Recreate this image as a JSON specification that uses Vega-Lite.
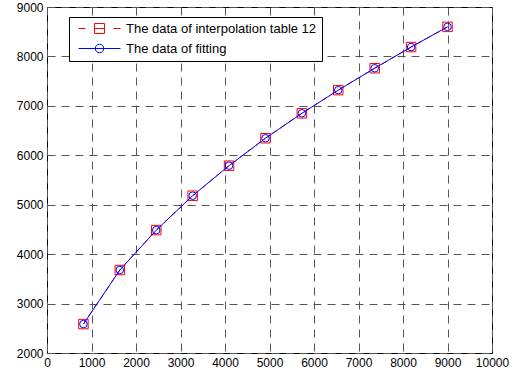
{
  "$schema": "https://vega.github.io/schema/vega-lite/v6.json",
  "width": 445,
  "height": 346,
  "autosize": {"type": "none"},
  "padding": {"left": 47, "top": 7, "right": 30, "bottom": 23},
  "background": "white",
  "config": {
    "view": {"stroke": "black", "strokeWidth": 1},
    "font": "Liberation Sans",
    "axis": {
      "labelFont": "Liberation Sans",
      "labelFontSize": 12,
      "labelColor": "black",
      "domain": false,
      "ticks": false,
      "labelPadding": 4,
      "grid": true,
      "gridColor": "#555555",
      "gridDash": [8, 6],
      "gridWidth": 1,
      "gridOpacity": 1,
      "title": null,
      "format": "d"
    }
  },
  "data": {
    "values": [
      {"x": 818, "y": 2585, "series": "The data of interpolation table 12"},
      {"x": 1636, "y": 3678, "series": "The data of interpolation table 12"},
      {"x": 2455, "y": 4486, "series": "The data of interpolation table 12"},
      {"x": 3273, "y": 5182, "series": "The data of interpolation table 12"},
      {"x": 4091, "y": 5790, "series": "The data of interpolation table 12"},
      {"x": 4909, "y": 6345, "series": "The data of interpolation table 12"},
      {"x": 5727, "y": 6849, "series": "The data of interpolation table 12"},
      {"x": 6545, "y": 7318, "series": "The data of interpolation table 12"},
      {"x": 7364, "y": 7761, "series": "The data of interpolation table 12"},
      {"x": 8182, "y": 8190, "series": "The data of interpolation table 12"},
      {"x": 9000, "y": 8598, "series": "The data of interpolation table 12"},
      {"x": 818, "y": 2585, "series": "The data of fitting"},
      {"x": 1636, "y": 3678, "series": "The data of fitting"},
      {"x": 2455, "y": 4486, "series": "The data of fitting"},
      {"x": 3273, "y": 5182, "series": "The data of fitting"},
      {"x": 4091, "y": 5790, "series": "The data of fitting"},
      {"x": 4909, "y": 6345, "series": "The data of fitting"},
      {"x": 5727, "y": 6849, "series": "The data of fitting"},
      {"x": 6545, "y": 7318, "series": "The data of fitting"},
      {"x": 7364, "y": 7761, "series": "The data of fitting"},
      {"x": 8182, "y": 8190, "series": "The data of fitting"},
      {"x": 9000, "y": 8598, "series": "The data of fitting"}
    ]
  },
  "encoding": {
    "x": {
      "field": "x", "type": "quantitative",
      "scale": {"domain": [0, 10000], "nice": false, "zero": false},
      "axis": {"values": [0, 1000, 2000, 3000, 4000, 5000, 6000, 7000, 8000, 9000, 10000], "labelFlush": false, "labelOverlap": false}
    },
    "y": {
      "field": "y", "type": "quantitative",
      "scale": {"domain": [2000, 9000], "nice": false, "zero": false},
      "axis": {"values": [2000, 3000, 4000, 5000, 6000, 7000, 8000, 9000], "labelFlush": false, "labelOverlap": false}
    },
    "color": {
      "field": "series", "type": "nominal",
      "scale": {"domain": ["The data of interpolation table 12", "The data of fitting"], "range": ["#ff0000", "#0000ff"]},
      "legend": {
        "orient": "none",
        "legendX": 22,
        "legendY": 10,
        "title": null,
        "padding": 5,
        "rowPadding": 6,
        "symbolSize": 100,
        "symbolStrokeWidth": 1,
        "symbolFillColor": "transparent",
        "symbolDash": [],
        "labelOffset": 39,
        "labelFontSize": 13,
        "labelFont": "Liberation Sans",
        "labelColor": "black",
        "labelLimit": 400,
        "strokeColor": "black",
        "fillColor": "white",
        "cornerRadius": 0,
        "encode": {
          "symbols": {
            "enter": {
              "shape": {"signal": "datum.value === 'The data of fitting' ? 'M-0.4,0H8M4.65,0A0.85,0.85 0 1,1 2.95,0A0.85,0.85 0 1,1 4.65,0Z' : 'M-0.4,0H1.0M2.8,0H4.8M6.6,0H8M2.8,-1H4.8V1H2.8Z'"}
            },
            "update": {
              "shape": {"signal": "datum.value === 'The data of fitting' ? 'M-0.4,0H8M4.65,0A0.85,0.85 0 1,1 2.95,0A0.85,0.85 0 1,1 4.65,0Z' : 'M-0.4,0H1.0M2.8,0H4.8M6.6,0H8M2.8,-1H4.8V1H2.8Z'"},
              "fill": {"value": "transparent"},
              "opacity": {"value": 1}
            }
          }
        }
      }
    }
  },
  "layer": [
    {
      "transform": [{"filter": "datum.series === 'The data of interpolation table 12'"}],
      "mark": {"type": "line", "strokeWidth": 1, "strokeDash": [6, 4]}
    },
    {
      "transform": [{"filter": "datum.series === 'The data of interpolation table 12'"}],
      "mark": {"type": "point", "shape": "square", "size": 90, "filled": false, "strokeWidth": 1, "opacity": 1}
    },
    {
      "transform": [{"filter": "datum.series === 'The data of fitting'"}],
      "mark": {"type": "line", "strokeWidth": 1}
    },
    {
      "transform": [{"filter": "datum.series === 'The data of fitting'"}],
      "mark": {"type": "point", "shape": "circle", "size": 57, "filled": false, "strokeWidth": 1, "opacity": 1}
    }
  ]
}
